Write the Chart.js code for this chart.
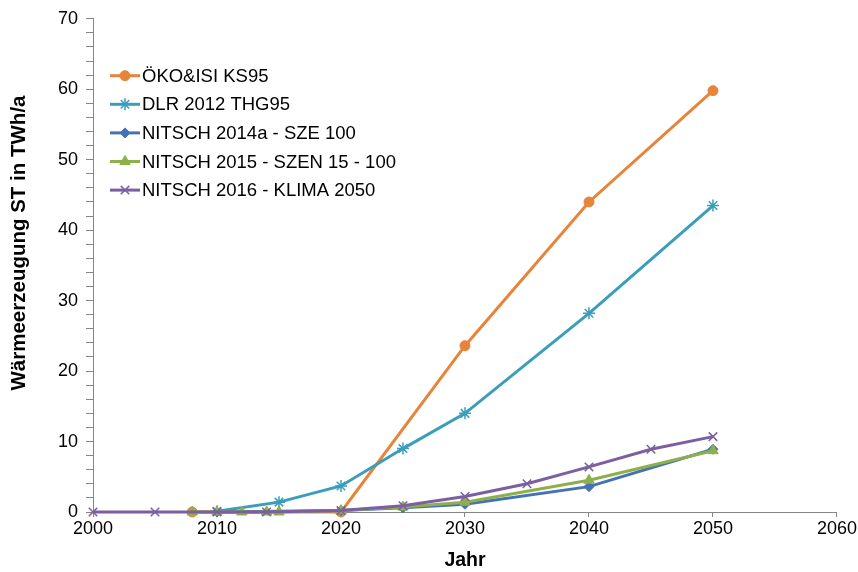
<!DOCTYPE html>
<html><head><meta charset="utf-8">
<script src="https://cdn.jsdelivr.net/npm/chart.js@4/dist/chart.umd.min.js"></script>
<style>html,body{margin:0;padding:0;background:#fff}#wrap{width:858px;height:572px}</style>
</head><body><div id="wrap"><canvas id="c" width="858" height="572"></canvas></div>
<script>
// ---- data ----
const okoYears = [2008, 2020, 2030, 2040, 2050];
const okoValues = [0, 0, 23.6, 44.0, 59.8];
const dlrYears = [2010, 2015, 2020, 2025, 2030, 2040, 2050];
const dlrValues = [0.1, 1.4, 3.7, 9.0, 14.0, 28.2, 43.5];
const n14Years = [2010, 2020, 2025, 2030, 2040, 2050];
const n14Values = [0, 0.2, 0.6, 1.1, 3.6, 8.9];
const n15Years = [2008, 2010, 2012, 2014, 2015, 2020, 2025, 2030, 2040, 2050];
const n15Values = [0, 0, 0, 0, 0, 0.2, 0.7, 1.4, 4.5, 8.7];
const n16Years = [2000, 2005, 2010, 2014, 2020, 2025, 2030, 2035, 2040, 2045, 2050];
const n16Values = [0, 0, 0, 0, 0.2, 0.9, 2.2, 4.0, 6.4, 8.9, 10.7];
const seriesNames = ['ÖKO&ISI KS95', 'DLR 2012 THG95', 'NITSCH 2014a - SZE 100', 'NITSCH 2015 - SZEN 15 - 100', 'NITSCH 2016 - KLIMA 2050'];
const xTickLabels = ['2000', '2010', '2020', '2030', '2040', '2050', '2060'];
const yTickLabels = ['0', '10', '20', '30', '40', '50', '60', '70'];
const xTitle = 'Jahr';
const yTitle = 'Wärmeerzeugung ST in TWh/a';

const FONT = '"Liberation Sans", Arial, sans-serif';
const pts = (xs, ys) => xs.map((x, i) => ({x: x, y: ys[i]}));

const styles = [
  {color: '#E8843A', pointStyle: 'circle', radius: 5, pbw: 1},
  {color: '#3A9EBB', pointStyle: 'star', radius: 6, pbw: 1.5},
  {color: '#4472B4', pointStyle: 'rectRot', radius: 5, pbw: 1},
  {color: '#8DB04B', pointStyle: 'triangle', radius: 6, pbw: 1},
  {color: '#7B5FA0', pointStyle: 'crossRot', radius: 6, pbw: 1.5}
];
const allPts = [pts(okoYears, okoValues), pts(dlrYears, dlrValues), pts(n14Years, n14Values), pts(n15Years, n15Values), pts(n16Years, n16Values)];

const datasets = allPts.map((d, i) => ({
  label: seriesNames[i],
  data: d,
  borderColor: styles[i].color,
  backgroundColor: styles[i].color,
  borderWidth: 3,
  pointStyle: styles[i].pointStyle,
  pointRadius: styles[i].radius,
  pointBorderWidth: styles[i].pbw,
  pointBackgroundColor: styles[i].color,
  pointBorderColor: styles[i].color,
  tension: 0,
  clip: false,
  order: 5 - i
}));

const legendPlugin = {
  id: 'insideLegend',
  afterDatasetsDraw(chart) {
    const ctx = chart.ctx;
    ctx.save();
    const x0 = 110, x1 = 140, tx = 142, y0 = 75.7, dy = 28.6;
    ctx.font = '18.5px ' + FONT;
    ctx.textBaseline = 'middle';
    ctx.textAlign = 'left';
    seriesNames.forEach((name, i) => {
      const y = y0 + i * dy;
      const s = styles[i];
      ctx.strokeStyle = s.color;
      ctx.lineWidth = 3;
      ctx.beginPath(); ctx.moveTo(x0, y); ctx.lineTo(x1, y); ctx.stroke();
      ctx.fillStyle = s.color;
      ctx.lineWidth = s.pbw;
      Chart.helpers.drawPoint(ctx, {pointStyle: s.pointStyle, radius: s.radius, borderWidth: s.pbw, rotation: 0}, (x0 + x1) / 2, y);
      ctx.fillStyle = '#000';
      ctx.fillText(name, tx, y + 1);
    });
    // y axis title (placed as in the reference, slightly above the plot centre)
    ctx.translate(19, 243);
    ctx.rotate(-Math.PI / 2);
    ctx.textAlign = 'center';
    ctx.font = 'bold 20.5px ' + FONT;
    ctx.fillText(yTitle, 0, 0);
    ctx.restore();
  }
};

new Chart(document.getElementById('c'), {
  type: 'line',
  data: {datasets: datasets},
  plugins: [legendPlugin],
  options: {
    responsive: false,
    animation: false,
    devicePixelRatio: 1,
    layout: {padding: {top: 18, right: 20, bottom: 0, left: 0}},
    plugins: {legend: {display: false}, tooltip: {enabled: false}},
    scales: {
      x: {
        type: 'linear', min: 2000, max: 2060,
        afterFit: s => { s.height = 60; },
        afterBuildTicks: s => { s.ticks = xTickLabels.map(v => ({value: Number(v)})); },
        ticks: {stepSize: 10, color: '#000', font: {family: FONT, size: 18}, padding: 1, maxRotation: 0,
          callback: v => xTickLabels.includes(String(v)) ? String(v) : ''},
        grid: {drawOnChartArea: false, drawTicks: true, tickLength: 5, color: '#868686', lineWidth: 1},
        border: {color: '#868686', width: 1},
        title: {display: true, text: xTitle, color: '#000', font: {family: FONT, size: 19.5, weight: 'bold'}, padding: {top: 0, bottom: 0}}
      },
      y: {
        type: 'linear', min: 0, max: 70,
        afterFit: s => { s.width = 93; },
        ticks: {stepSize: 2, autoSkip: false, color: '#000', font: {family: FONT, size: 18}, padding: 8,
          callback: v => yTickLabels.includes(String(v)) ? String(v) : ''},
        grid: {drawOnChartArea: false, drawTicks: true, tickLength: 7, color: '#868686', lineWidth: 1},
        border: {color: '#868686', width: 1},
        title: {display: false}
      }
    }
  }
});
</script>
</body></html>
